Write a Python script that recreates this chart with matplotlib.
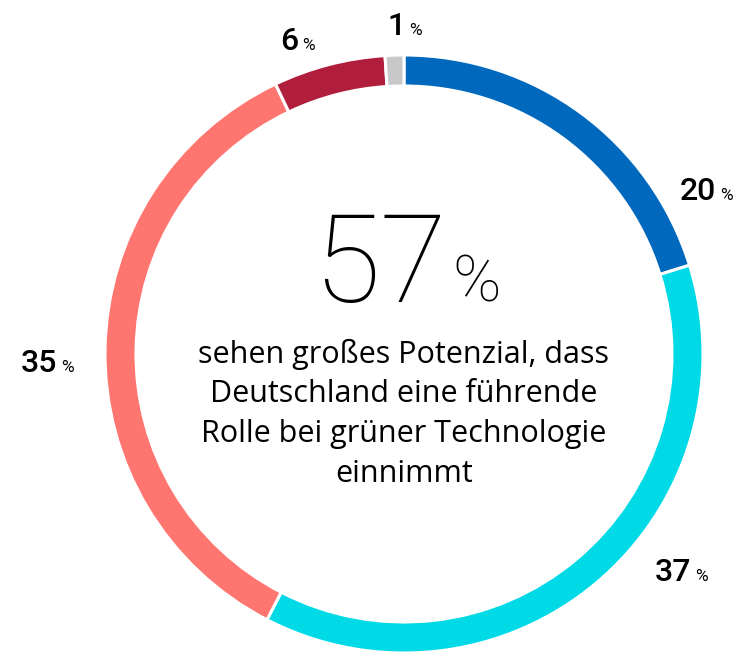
import matplotlib
matplotlib.use("Agg")
import matplotlib.pyplot as plt

categories = ["Sehr großes Potenzial", "Großes Potenzial", "Weniger Potenzial", "Kein Potenzial", "Weiß nicht"]
values = [20, 37, 35, 6, 1]
colors = ["#0068BD", "#00D9E6", "#FF7570", "#B01E3C", "#C8C8C8"]
headline = "57"
body_lines = ["sehen großes Potenzial, dass", "Deutschland eine führende",
              "Rolle bei grüner Technologie", "einnimmt"]

W, H = 744, 652
fig = plt.figure(figsize=(W / 100, H / 100), dpi=100)
ax = fig.add_axes([0, 0, 1, 1])
cx, cy, R = 404, H - 354, 299
ax.pie(values, colors=colors, center=(cx, cy), radius=R, startangle=90,
       counterclock=False,
       wedgeprops=dict(width=31, edgecolor="white", linewidth=2.2))
ax.set_xlim(0, W)
ax.set_ylim(0, H)
ax.set_aspect("auto")
ax.axis("off")

fam = ["Roboto", "DejaVu Sans"]
bfam = ["Open Sans", "DejaVu Sans"]
# label positions (pixel coords: x of left edge, baseline y from top)
label_pos = [(680, 200), (655, 581), (21, 372), (280, 50), (387, 35)]
for v, (x, y) in zip(values, label_pos):
    t = ax.text(x, H - y, str(v), fontsize=23, fontweight="medium", family=fam,
                ha="left", va="baseline")
    fig.canvas.draw()
    bb = t.get_window_extent()
    ax.text(bb.x1 + 4, H - y, "%", fontsize=12.5, family=fam, ha="left", va="baseline")

ax.text(447, H - 302, headline, fontsize=88, fontweight="light", family=fam,
        ha="right", va="baseline")
ax.text(452, H - 302, "%", fontsize=47, fontweight="light", family=fam,
        ha="left", va="baseline")
for i, line in enumerate(body_lines):
    ax.text(404, H - (363 + 39.5 * i), line, fontsize=22, family=bfam,
            ha="center", va="baseline")

fig.savefig("out.png", dpi=100)
